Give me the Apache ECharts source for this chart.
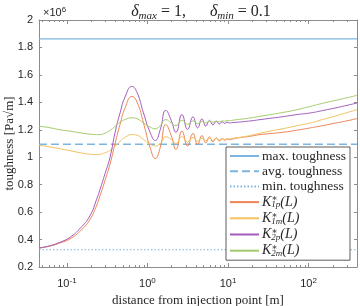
<!DOCTYPE html>
<html><head><meta charset="utf-8">
<script src="https://cdn.jsdelivr.net/npm/echarts@6/dist/echarts.min.js"></script>
<style>html,body{margin:0;padding:0;background:#fff}#c{width:360px;height:306px}</style>
</head><body><div id="c"></div>
<script>
const distance = [0.045, 0.0614, 0.0818, 0.109, 0.145, 0.193, 0.234, 0.258, 0.297, 0.343, 0.396, 0.457, 0.528, 0.64, 0.745, 0.892, 1.08, 1.25, 1.44, 1.69, 1.97,
  2.26, 2.68, 3.15, 3.67, 4.2, 4.75, 5.3, 5.9, 6.5, 7.15, 7.8, 8.45, 9.1, 9.75, 10.4,
  11.5, 13, 16, 20, 25, 33, 50, 70, 106, 150, 200, 300, 400];
const K1p = [0.338, 0.352, 0.375, 0.405, 0.46, 0.545, 0.65, 0.72, 0.83, 0.95, 1.1, 1.24, 1.36, 1.443, 1.40, 1.25, 1.07, 0.99, 1.07, 1.238, 1.16,
  1.057, 1.19, 1.081, 1.173, 1.093, 1.158, 1.105, 1.149, 1.112, 1.141, 1.118, 1.136, 1.122, 1.133, 1.128,
  1.133, 1.14, 1.147, 1.155, 1.165, 1.172, 1.183, 1.196, 1.214, 1.23, 1.245, 1.265, 1.282];
const K1m = [1.088, 1.075, 1.062, 1.048, 1.033, 1.022, 1.02, 1.022, 1.032, 1.05, 1.08, 1.115, 1.145, 1.165, 1.16, 1.13, 1.095, 1.082, 1.10, 1.149, 1.13,
  1.10, 1.15, 1.11, 1.145, 1.115, 1.14, 1.12, 1.138, 1.124, 1.136, 1.127, 1.135, 1.13, 1.135, 1.134,
  1.138, 1.142, 1.15, 1.162, 1.175, 1.19, 1.21, 1.228, 1.25, 1.275, 1.295, 1.325, 1.347];
const K2p = [0.338, 0.355, 0.38, 0.416, 0.48, 0.573, 0.694, 0.766, 0.88, 1.0, 1.18, 1.323, 1.44, 1.516, 1.47, 1.323, 1.18, 1.122, 1.20, 1.342, 1.27,
  1.182, 1.311, 1.202, 1.294, 1.214, 1.279, 1.226, 1.269, 1.236, 1.262, 1.242, 1.258, 1.246, 1.256, 1.25,
  1.253, 1.255, 1.26, 1.266, 1.274, 1.283, 1.297, 1.31, 1.323, 1.34, 1.355, 1.378, 1.395];
const K2m = [1.226, 1.215, 1.20, 1.19, 1.178, 1.168, 1.165, 1.165, 1.175, 1.195, 1.225, 1.255, 1.275, 1.287, 1.28, 1.25, 1.22, 1.207, 1.23, 1.274, 1.25,
  1.23, 1.27, 1.24, 1.265, 1.245, 1.262, 1.25, 1.262, 1.255, 1.263, 1.258, 1.265, 1.262, 1.267, 1.267,
  1.27, 1.274, 1.28, 1.288, 1.298, 1.31, 1.328, 1.345, 1.371, 1.393, 1.41, 1.433, 1.451];
const maxToughness = 1.862;
const avgToughness = 1.094;
const minToughness = 0.326;
const xRange = [0.045, 400];
const yRange = [0.2, 2];
const yStep = 0.2;
const majorTicks = [0.1, 1, 10, 100];
const minorTicks = [0.05, 0.06, 0.07, 0.08, 0.09, 0.2, 0.3, 0.4, 0.5, 0.6, 0.7, 0.8, 0.9,
  2, 3, 4, 5, 6, 7, 8, 9, 20, 30, 40, 50, 60, 70, 80, 90, 200, 300];

const serif = "'Liberation Serif', 'DejaVu Serif', serif";
const sans = "'Liberation Sans', Arial, sans-serif";
const axisCol = '#8c8c8c';
const txt = '#262626';
const blue = '#7cb5e0';

const pairs = arr => distance.map((x, i) => [x, arr[i]]);
const flat = v => xRange.map(x => [x, v]);

function xAxisDef(pos, ticks, len, showLine, showLabel) {
  return {
    type: 'log', logBase: 10, min: xRange[0], max: xRange[1], position: pos,
    axisLine: { show: showLine, lineStyle: { color: axisCol, width: 1 } },
    axisTick: { show: true, inside: true, length: len, customValues: ticks, lineStyle: { color: axisCol, width: 1 } },
    axisLabel: showLabel ? {
      show: true, customValues: majorTicks, margin: 10,
      formatter: v => '{a|10}{e|' + Math.round(Math.log10(v)) + '}',
      rich: { a: { fontFamily: sans, fontSize: 11, color: txt, lineHeight: 14 },
              e: { fontFamily: sans, fontSize: 8, color: txt, lineHeight: 8, verticalAlign: 'top' } }
    } : { show: false },
    splitLine: { show: false }, minorTick: { show: false }, minorSplitLine: { show: false },
    name: showLabel ? 'distance from injection point [m]' : '',
    nameLocation: 'middle', nameGap: 27, nameMoveOverlap: false,
    nameTextStyle: { fontFamily: serif, fontSize: 13, color: txt }
  };
}
function yAxisDef(pos, showLabel) {
  return {
    type: 'value', min: yRange[0], max: yRange[1], interval: yStep, position: pos,
    axisLine: { show: true, lineStyle: { color: axisCol, width: 1 } },
    axisTick: { show: true, inside: true, length: 3, lineStyle: { color: axisCol } },
    axisLabel: { show: showLabel, fontFamily: sans, fontSize: 11, color: txt, margin: 6 },
    splitLine: { show: false },
    name: showLabel ? 'toughness [Pa√m]' : '',
    nameLocation: 'middle', nameGap: 23, nameMoveOverlap: false,
    nameTextStyle: { fontFamily: serif, fontSize: 13, color: txt }
  };
}

const base = { type: 'line', symbol: 'none', showSymbol: false, smooth: 0.5, animation: false, xAxisIndex: 0, yAxisIndex: 0 };
const kNames = { 'K1p': '1p', 'K1m': '1m', 'K2p': '2p', 'K2m': '2m' };

const option = {
  animation: false,
  backgroundColor: '#fff',
  grid: { left: 39, right: 3, top: 20, bottom: 39, containLabel: false, outerBoundsMode: 'none' },
  title: [
    { text: '{d|δ}{s|max}{t| = 1,      }{d|δ}{s|min}{t| = 0.1}', left: 196, top: -3, textAlign: 'center',
      textStyle: { fontWeight: 'normal', rich: {
        d: { fontFamily: serif, fontStyle: 'italic', fontWeight: 'normal', fontSize: 16, color: txt, lineHeight: 20 },
        s: { fontFamily: serif, fontStyle: 'italic', fontWeight: 'normal', fontSize: 11, color: txt, lineHeight: 10, verticalAlign: 'bottom' },
        t: { fontFamily: serif, fontWeight: 'normal', fontSize: 16, color: txt, lineHeight: 20 } } } },
    { text: '{a|×10}{e|6}', left: 38, top: 1,
      textStyle: { fontWeight: 'normal', rich: {
        a: { fontFamily: sans, fontWeight: 'normal', fontSize: 11, color: txt, lineHeight: 14 },
        e: { fontFamily: sans, fontWeight: 'normal', fontSize: 8, color: txt, lineHeight: 8, verticalAlign: 'top' } } } }
  ],
  legend: {
    orient: 'vertical', left: 226, top: 147, itemWidth: 29, itemHeight: 12, itemGap: 1.2,
    backgroundColor: '#fff', borderColor: '#333', borderWidth: 0.8, padding: [2, 4, 2, 3],
    itemStyle: { opacity: 0, borderWidth: 0 },
    data: ['max. toughness', 'avg. toughness', 'min. toughness', 'K1p', 'K1m', 'K2p', 'K2m'],
    formatter: n => kNames[n] ? '{k|K}{st|∗}{sb|' + kNames[n] + '}{k|(L)}' : '{t|' + n + '}',
    textStyle: { padding: [0, 0, 0, -2], rich: {
      t: { fontFamily: serif, fontSize: 13.5, color: txt, lineHeight: 15 },
      k: { fontFamily: serif, fontStyle: 'italic', fontSize: 14, color: txt, lineHeight: 15 },
      st: { fontFamily: serif, fontSize: 9, color: txt, lineHeight: 9, verticalAlign: 'top', width: 0.01 },
      sb: { fontFamily: serif, fontStyle: 'italic', fontSize: 9, color: txt, lineHeight: 9, verticalAlign: 'bottom' } } }
  },
  xAxis: [
    xAxisDef('bottom', majorTicks, 4, true, true),
    xAxisDef('bottom', minorTicks, 2, false, false),
    xAxisDef('top', majorTicks, 4, true, false),
    xAxisDef('top', minorTicks, 2, false, false)
  ],
  yAxis: [yAxisDef('left', true), yAxisDef('right', false)],
  series: [
    Object.assign({}, base, { name: 'max. toughness', data: flat(maxToughness), smooth: false, lineStyle: { color: blue, width: 1.2 }, itemStyle: { color: blue } }),
    Object.assign({}, base, { name: 'avg. toughness', data: flat(avgToughness), smooth: false, lineStyle: { color: blue, width: 1.5, type: [8, 4] }, itemStyle: { color: blue } }),
    Object.assign({}, base, { name: 'min. toughness', data: flat(minToughness), smooth: false, lineStyle: { color: blue, width: 1, type: [1.5, 2] }, itemStyle: { color: blue } }),
    Object.assign({}, base, { name: 'K1p', data: pairs(K1p), lineStyle: { color: '#ee8456', width: 1 }, itemStyle: { color: '#ee8456' } }),
    Object.assign({}, base, { name: 'K1m', data: pairs(K1m), lineStyle: { color: '#f4c25e', width: 1 }, itemStyle: { color: '#f4c25e' } }),
    Object.assign({}, base, { name: 'K2p', data: pairs(K2p), lineStyle: { color: '#a25cbd', width: 1 }, itemStyle: { color: '#a25cbd' } }),
    Object.assign({}, base, { name: 'K2m', data: pairs(K2m), lineStyle: { color: '#a2cc6c', width: 1 }, itemStyle: { color: '#a2cc6c' } })
  ]
};
const chart = echarts.init(document.getElementById('c'), null, { renderer: 'canvas' });
chart.setOption(option);
</script></body></html>
